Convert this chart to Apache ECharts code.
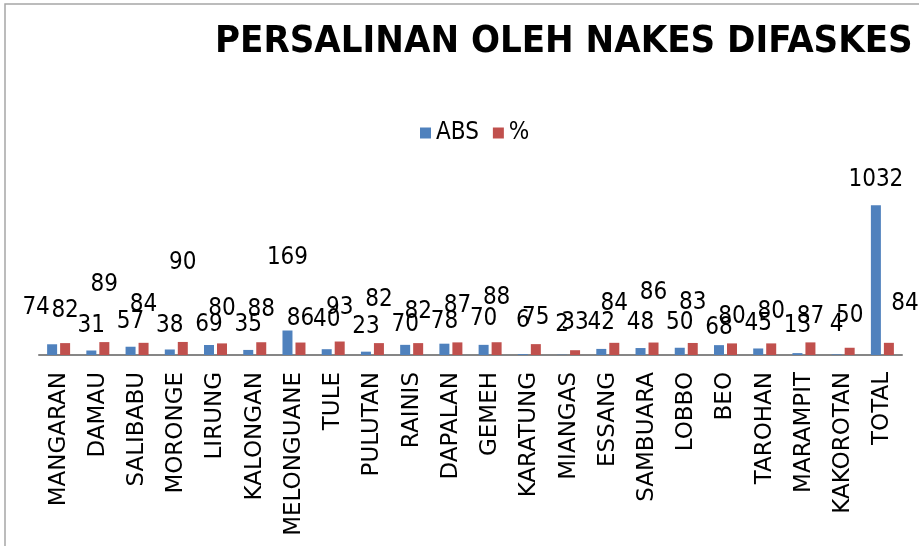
<!DOCTYPE html>
<html>
<head>
<meta charset="utf-8">
<script src="https://cdn.jsdelivr.net/npm/echarts@6/dist/echarts.min.js"></script>
<style>
  html, body { margin: 0; padding: 0; background: #fff; }
  #main { width: 919px; height: 546px; }
</style>
</head>
<body>
<div id="main"></div>
<script>
var categories = ["MANGARAN", "DAMAU", "SALIBABU", "MORONGE", "LIRUNG", "KALONGAN",
    "MELONGUANE", "TULE", "PULUTAN", "RAINIS", "DAPALAN", "GEMEH", "KARATUNG",
    "MIANGAS", "ESSANG", "SAMBUARA", "LOBBO", "BEO", "TAROHAN", "MARAMPIT",
    "KAKOROTAN", "TOTAL"];
var absValues = [74, 31, 57, 38, 69, 35, 169, 40, 23, 70, 78, 70, 6, 2, 42, 48, 50, 68, 45, 13, 4, 1032];
var pctValues = [82, 89, 84, 90, 80, 88, 86, 93, 82, 82, 87, 88, 75, 33, 84, 86, 83, 80, 80, 87, 50, 84];

// how far each data label sits above its bar (labels are scattered in the original)
var absLabelLift = [25, 13, 13, 12, 8, 13, 61, 17, 13, 8, 10, 14, 21, 18, 14, 13, 13, 5, 13, 15, 18, 14];
var pctLabelLift = [20, 45, 26, 67, 23, 20, 12, 22, 31, 19, 25, 32, 14, 15, 27, 38, 28, 15, 20, 14, 20, 27];

var narrow = "'Liberation Sans Narrow', 'DejaVu Sans Condensed', sans-serif";

function withLabels(values, lifts, firstShift, lastShift) {
    var out = [];
    for (var i = 0; i < values.length; i++) {
        var item = { value: values[i], label: { distance: lifts[i] } };
        if (i === 0 && firstShift) item.label.offset = [firstShift, 0];
        if (i === values.length - 1 && lastShift) item.label.offset = [lastShift, 0];
        out.push(item);
    }
    return out;
}

var myChart = echarts.init(document.getElementById("main"), null, { renderer: 'canvas' });

var option = {
    animation: false,
    graphic: [{
        type: 'rect',
        shape: { x: 5, y: 4, width: 1000, height: 700 },
        style: { fill: 'none', stroke: '#a6a6a6', lineWidth: 1.5 },
        z: -1
    }],
    title: {
        text: 'PERSALINAN OLEH NAKES DIFASKES',
        left: 215,
        top: 23,
        padding: 0,
        textStyle: {
            color: '#000',
            fontSize: 38,
            fontWeight: 'bold',
            fontFamily: narrow
        }
    },
    legend: {
        left: 415,
        top: 116,
        itemWidth: 11,
        itemHeight: 11,
        itemGap: 14,
        icon: 'rect',
        data: ['ABS', '%'],
        textStyle: { color: '#000', fontSize: 24, fontFamily: narrow }
    },
    grid: { left: 39, right: 17, top: 181, bottom: 191 },
    xAxis: {
        type: 'category',
        data: categories,
        axisLine: { lineStyle: { color: '#868686', width: 2 } },
        axisTick: { show: false },
        axisLabel: {
            rotate: 90,
            interval: 0,
            margin: 17,
            color: '#000',
            fontSize: 23,
            fontFamily: "'DejaVu Sans', sans-serif"
        }
    },
    yAxis: {
        type: 'value',
        min: 0,
        max: 1200,
        show: false,
        splitLine: { show: false }
    },
    series: [
        {
            name: 'ABS',
            type: 'bar',
            barWidth: 10,
            barGap: '30%',
            itemStyle: { color: '#4F81BD' },
            label: {
                show: true,
                position: 'top',
                color: '#000',
                fontSize: 24,
                fontFamily: narrow
            },
            data: withLabels(absValues, absLabelLift, -16, 0)
        },
        {
            name: '%',
            type: 'bar',
            barWidth: 10,
            barGap: '30%',
            itemStyle: { color: '#C0504D' },
            label: {
                show: true,
                position: 'top',
                color: '#000',
                fontSize: 24,
                fontFamily: narrow
            },
            data: withLabels(pctValues, pctLabelLift, 0, 16)
        }
    ]
};

myChart.setOption(option);
</script>
</body>
</html>
